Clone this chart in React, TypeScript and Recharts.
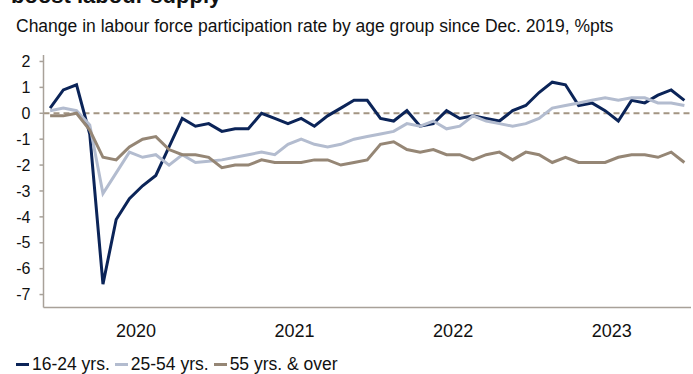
import { LineChart, Line, XAxis, YAxis, ReferenceLine } from "recharts";

const months = [
  "Dec-19",
  "Jan-20", "Feb-20", "Mar-20", "Apr-20", "May-20", "Jun-20", "Jul-20", "Aug-20", "Sep-20", "Oct-20", "Nov-20", "Dec-20",
  "Jan-21", "Feb-21", "Mar-21", "Apr-21", "May-21", "Jun-21", "Jul-21", "Aug-21", "Sep-21", "Oct-21", "Nov-21", "Dec-21",
  "Jan-22", "Feb-22", "Mar-22", "Apr-22", "May-22", "Jun-22", "Jul-22", "Aug-22", "Sep-22", "Oct-22", "Nov-22", "Dec-22",
  "Jan-23", "Feb-23", "Mar-23", "Apr-23", "May-23", "Jun-23", "Jul-23", "Aug-23", "Sep-23", "Oct-23", "Nov-23", "Dec-23",
];

// %pts change since Dec 2019
const youth = [
  0.2, 0.9, 1.1, -0.8, -6.6, -4.1, -3.3, -2.8, -2.4, -1.3, -0.2, -0.5, -0.4,
  -0.7, -0.6, -0.6, 0.0, -0.2, -0.4, -0.2, -0.5, -0.1, 0.2, 0.5, 0.5,
  -0.2, -0.3, 0.1, -0.5, -0.4, 0.1, -0.2, -0.1, -0.2, -0.3, 0.1, 0.3,
  0.8, 1.2, 1.1, 0.3, 0.4, 0.1, -0.3, 0.5, 0.4, 0.7, 0.9, 0.5,
];
const coreAge = [
  0.1, 0.2, 0.1, -0.45, -3.1, -2.3, -1.5, -1.7, -1.6, -2.0, -1.6, -1.9, -1.85,
  -1.8, -1.7, -1.6, -1.5, -1.6, -1.2, -1.0, -1.2, -1.3, -1.2, -1.0, -0.9,
  -0.8, -0.7, -0.4, -0.5, -0.3, -0.6, -0.5, -0.1, -0.3, -0.4, -0.5, -0.4,
  -0.2, 0.2, 0.3, 0.4, 0.5, 0.6, 0.5, 0.6, 0.6, 0.4, 0.4, 0.3,
];
const older = [
  -0.1, -0.1, 0.0, -0.65, -1.7, -1.8, -1.3, -1.0, -0.9, -1.4, -1.6, -1.6, -1.7,
  -2.1, -2.0, -2.0, -1.8, -1.9, -1.9, -1.9, -1.8, -1.8, -2.0, -1.9, -1.8,
  -1.2, -1.1, -1.4, -1.5, -1.4, -1.6, -1.6, -1.8, -1.6, -1.5, -1.8, -1.5,
  -1.6, -1.9, -1.7, -1.9, -1.9, -1.9, -1.7, -1.6, -1.6, -1.7, -1.5, -1.9,
];

const years = ["2020", "2021", "2022", "2023"];
const yTicks = [2, 1, 0, -1, -2, -3, -4, -5, -6, -7];
const seriesNames = ["16-24 yrs.", "25-54 yrs.", "55 yrs. & over"];
const seriesKeys = ["youth", "core", "older"];
const COLORS = ["#0b2458", "#b3bccf", "#958675"];
const AXIS = "#a8a199";
const FONT = "'Liberation Sans', Arial, sans-serif";

const data = months.map((m, i) => ({
  m,
  i,
  youth: youth[i],
  core: coreAge[i],
  older: older[i],
}));

// year boundaries sit between Dec and Jan
const yearStarts = years.map((y) => months.indexOf("Jan-" + y.slice(2)));
const boundaryTicks = [...yearStarts.map((s) => s - 0.5), months.length - 0.5];
const labelTicks = yearStarts.map((s) => s + 5.5);

export default function App() {
  return (
    <div
      style={{
        position: "absolute",
        left: 0,
        top: 0,
        width: 693,
        height: 374,
        overflow: "hidden",
        background: "#fff",
        fontFamily: FONT,
        color: "#111",
      }}
    >
      {/* title, cut off at the top like the source */}
      <div
        style={{
          position: "absolute",
          left: 11,
          top: -15,
          fontSize: 22,
          lineHeight: "22px",
          fontWeight: 700,
          whiteSpace: "nowrap",
        }}
      >
        boost labour supply
      </div>
      <div
        style={{
          position: "absolute",
          left: 16,
          top: 18,
          fontSize: 17.5,
          lineHeight: "17px",
          whiteSpace: "nowrap",
        }}
      >
        Change in labour force participation rate by age group since Dec. 2019, %pts
      </div>

      <div style={{ position: "absolute", left: 0, top: 0 }}>
        <LineChart
          width={693}
          height={374}
          data={data}
          margin={{ top: 55, right: 2, bottom: 30.5, left: 0 }}
        >
          <XAxis
            xAxisId="m"
            dataKey="i"
            type="number"
            domain={[-0.5, months.length - 0.5]}
            ticks={boundaryTicks}
            tick={false}
            tickSize={4}
            height={6}
            stroke={AXIS}
            strokeWidth={1.5}
          />
          <XAxis
            xAxisId="y"
            dataKey="i"
            type="number"
            domain={[-0.5, months.length - 0.5]}
            ticks={labelTicks}
            tickFormatter={(v: number) => years[labelTicks.indexOf(v)]}
            axisLine={false}
            tickLine={false}
            tickSize={0}
            tickMargin={11}
            height={30}
            tick={{ fill: "#111", fontSize: 18, fontFamily: FONT }}
          />
          <YAxis
            yAxisId={0}
            type="number"
            domain={[-7.5, 2.25]}
            ticks={yTicks}
            width={43.5}
            tickSize={4}
            tickMargin={9}
            stroke={AXIS}
            strokeWidth={1.5}
            tick={{ fill: "#111", fontSize: 16, fontFamily: FONT }}
            interval={0}
          />
          <ReferenceLine
            xAxisId="m"
            y={0}
            stroke="#a39583"
            strokeWidth={2}
            strokeDasharray="6 4"
          />
          {seriesKeys.map((k, idx) => (
            <Line
              key={k}
              xAxisId="m"
              dataKey={k}
              name={seriesNames[idx]}
              type="linear"
              stroke={COLORS[idx]}
              strokeWidth={3}
              dot={false}
              isAnimationActive={false}
            />
          ))}
        </LineChart>
      </div>

      {/* Legend */}
      <div
        style={{
          position: "absolute",
          left: 16,
          top: 354,
          display: "flex",
          alignItems: "center",
          fontSize: 17.5,
          lineHeight: "20px",
          whiteSpace: "nowrap",
        }}
      >
        {seriesNames.map((n, idx) => (
          <div key={n} style={{ display: "flex", alignItems: "center", marginRight: 5 }}>
            <span
              style={{
                display: "inline-block",
                width: 13,
                height: 3,
                background: COLORS[idx],
                marginRight: 3,
              }}
            />
            <span>{n}</span>
          </div>
        ))}
      </div>
    </div>
  );
}
